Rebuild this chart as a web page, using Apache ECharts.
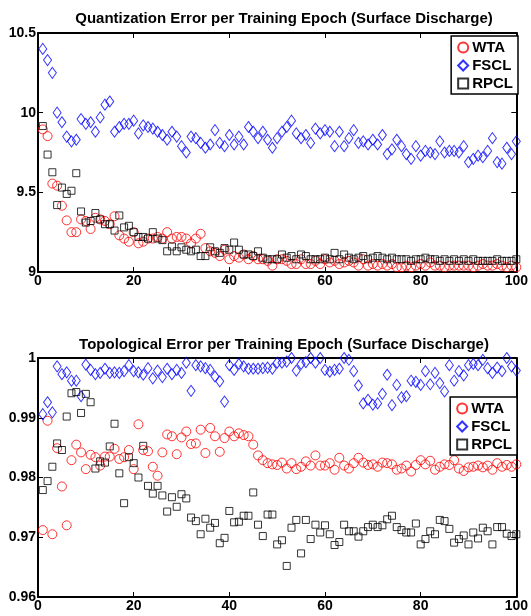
<!DOCTYPE html>
<html><head><meta charset="utf-8">
<script src="https://cdn.jsdelivr.net/npm/echarts@6/dist/echarts.min.js"></script>
<style>html,body{margin:0;padding:0;background:#fff}#c{width:531px;height:616px}</style>
</head><body><div id="c"></div>
<script>
const qeTitle = 'Quantization Error per Training Epoch (Surface Discharge)';
const teTitle = 'Topological Error per Training Epoch (Surface Discharge)';
const seriesNames = ['WTA', 'FSCL', 'RPCL'];
const xTicks = [0, 20, 40, 60, 80, 100];
const qeTicks = [9, 9.5, 10, 10.5];
const teTicks = [0.96, 0.97, 0.98, 0.99, 1];

const qeWTA = [9.895,9.853,9.555,9.542,9.416,9.324,9.25,9.25,9.33,9.32,9.27,9.34,9.33,9.32,9.30,9.35,9.23,9.21,9.19,9.25,9.18,9.19,9.21,9.21,9.22,9.21,9.25,9.21,9.22,9.22,9.21,9.18,9.21,9.24,
9.15,9.13,9.12,9.10,9.14,9.08,9.10,9.09,9.11,9.08,9.10,9.08,9.08,9.07,9.04,9.08,9.08,9.07,9.05,9.05,9.08,9.05,9.05,9.07,9.05,9.08,9.06,9.07,9.05,9.06,9.07,9.06,9.04,9.08,
9.04,9.05,9.04,9.05,9.04,9.05,9.03,9.03,9.04,9.03,9.04,9.05,9.04,9.06,9.04,9.04,9.03,9.04,9.04,9.04,9.04,9.04,9.03,9.04,9.05,9.04,9.04,9.05,9.04,9.03,9.04,9.03];
const qeFSCL = [10.40,10.33,10.25,10.00,9.94,9.85,9.82,9.83,9.96,9.93,9.94,9.88,9.97,10.05,10.07,9.88,9.91,9.93,9.93,9.95,9.87,9.92,9.91,9.90,9.88,9.86,9.83,9.88,9.85,9.79,9.75,9.85,9.84,9.81,
9.78,9.80,9.89,9.81,9.79,9.86,9.80,9.85,9.80,9.91,9.88,9.84,9.88,9.83,9.78,9.84,9.88,9.91,9.95,9.87,9.84,9.86,9.81,9.90,9.87,9.89,9.88,9.79,9.88,9.79,9.84,9.89,
9.81,9.82,9.80,9.83,9.80,9.86,9.74,9.77,9.83,9.79,9.74,9.71,9.79,9.73,9.76,9.75,9.74,9.82,9.75,9.76,9.76,9.75,9.79,9.69,9.71,9.73,9.72,9.76,9.84,9.69,9.68,9.78,9.74,9.82];
const qeRPCL = [9.916,9.737,9.626,9.42,9.53,9.49,9.51,9.62,9.38,9.31,9.32,9.37,9.33,9.30,9.30,9.26,9.355,9.28,9.29,9.25,9.22,9.22,9.21,9.25,9.21,9.20,9.13,9.16,9.13,9.155,9.14,9.13,9.14,9.10,
9.10,9.155,9.13,9.12,9.15,9.14,9.185,9.14,9.11,9.11,9.10,9.13,9.09,9.08,9.08,9.08,9.11,9.09,9.10,9.08,9.11,9.10,9.08,9.08,9.08,9.09,9.08,9.12,9.08,9.11,9.09,9.08,
9.09,9.10,9.08,9.09,9.10,9.09,9.08,9.09,9.08,9.08,9.08,9.07,9.08,9.08,9.09,9.08,9.08,9.07,9.08,9.07,9.08,9.07,9.08,9.07,9.08,9.07,9.07,9.07,9.07,9.08,9.07,9.07,9.07,9.08];

const teWTA = [0.9712,0.9895,0.9705,0.9849,0.9785,0.9720,0.9829,0.9855,0.9842,0.9814,0.9838,0.9834,0.9820,0.9835,0.9835,0.9848,0.9831,0.9834,0.9846,0.9814,0.9889,0.9846,0.9844,0.9818,0.9803,0.9842,0.9872,0.9869,0.9839,0.9867,0.9877,0.9856,0.9857,0.9880,
0.9841,0.9883,0.9869,0.9843,0.9866,0.9877,0.9869,0.9874,0.9871,0.9869,0.9855,0.9837,0.9829,0.9824,0.9822,0.9821,0.9825,0.9815,0.9824,0.9814,0.9818,0.9827,0.9820,0.9837,0.9820,0.9820,0.9824,0.9813,0.9833,0.9820,0.9815,0.9824,0.9833,
0.9825,0.9821,0.9822,0.9818,0.9825,0.9824,0.9822,0.9813,0.9815,0.9820,0.9810,0.9821,0.9829,0.9822,0.9828,0.9813,0.9818,0.9822,0.9821,0.9829,0.9815,0.9811,0.9817,0.9818,0.9820,0.9817,0.9820,0.9813,0.9824,0.9818,0.9821,0.9818,0.9822];
const teFSCL = [0.9906,0.9926,0.9909,0.9986,0.9973,0.9976,0.9962,0.9962,0.9936,0.9989,0.9980,0.9973,0.9975,0.9982,0.9975,0.9976,0.9975,0.9978,0.9988,0.9978,0.9976,0.9972,0.9983,0.9966,0.9979,0.9968,0.9982,0.9973,0.9980,0.9975,0.9992,0.9945,0.9988,0.9986,
0.9983,0.9980,0.9969,0.9961,0.9927,0.9988,0.9980,0.9990,0.9986,0.9982,0.9982,0.9982,0.9983,0.9984,0.9982,0.9992,0.9992,0.9994,1.0,0.9979,0.9990,0.9993,1.0,0.9992,1.0,0.9980,0.9977,0.9980,0.9982,1.0,0.9997,0.9978,0.9954,
0.9924,0.9930,0.9922,0.9924,0.9940,0.9972,0.9921,0.9955,0.9934,0.9936,0.9962,0.9960,0.9955,0.9978,0.9956,0.9975,0.9958,0.9944,0.9988,0.9962,0.9978,0.9971,0.9988,0.9990,0.9988,0.9997,0.9983,0.9975,0.9984,0.9978,1.0,0.9986,0.9979];
const teRPCL = [0.9779,0.9794,0.9818,0.9857,0.9846,0.9902,0.9941,0.9943,0.9908,0.9940,0.9926,0.9815,0.9827,0.9825,0.9852,0.9890,0.9807,0.9757,0.9834,0.9824,0.9800,0.9853,0.9786,0.9773,0.9786,0.9770,0.9743,0.9767,0.9751,0.9772,0.9765,0.9733,0.9727,0.9705,
0.9731,0.9716,0.9724,0.9690,0.9699,0.9744,0.9725,0.9726,0.9736,0.9736,0.9775,0.9721,0.9702,0.9738,0.9738,0.9688,0.9695,0.9652,0.9716,0.9729,0.9673,0.9729,0.9697,0.9721,0.9708,0.9720,0.9705,0.9687,0.9692,0.9721,0.9710,0.9710,0.9701,
0.9710,0.9717,0.9721,0.9717,0.9720,0.9730,0.9736,0.9717,0.9712,0.9708,0.9708,0.9723,0.9688,0.9697,0.9710,0.9705,0.9729,0.9727,0.9714,0.9691,0.9697,0.9703,0.9688,0.9708,0.9698,0.9716,0.9710,0.9688,0.9717,0.9717,0.9706,0.9702,0.9705];

const FONT = "'Liberation Sans', Arial, sans-serif";
const styles = {
  WTA:  {symbol: 'circle',  size: 9,       color: '#ff0000'},
  FSCL: {symbol: 'diamond', size: [8, 11], color: '#0000ff'},
  RPCL: {symbol: 'rect',    size: 7,       color: '#000000'}
};
function pts(arr) { return arr.map((v, i) => [i + 1, v]); }
function mkSeries(name, arr, gi) {
  const s = styles[name];
  return {
    name: name, type: 'scatter', xAxisIndex: gi * 2, yAxisIndex: gi * 2,
    data: pts(arr), symbol: s.symbol, symbolSize: s.size,
    itemStyle: {color: 'rgba(255,255,255,0)', borderColor: s.color, borderWidth: 1},
    emphasis: {disabled: true}, animation: false
  };
}
const grids = [
  {left: 38, top: 33, width: 480, height: 239},
  {left: 38, top: 358, width: 480, height: 239}
];
const xAxes = [], yAxes = [];
const yRanges = [{min: qeTicks[0], max: qeTicks[qeTicks.length - 1], interval: 0.5},
                 {min: teTicks[0], max: teTicks[teTicks.length - 1], interval: 0.01}];
for (let g = 0; g < 2; g++) {
  const lineS = {show: true, onZero: false, lineStyle: {color: '#000', width: 2}};
  const tick = {inside: true, length: 5, lineStyle: {color: '#000', width: 1}};
  const lab = {color: '#000', fontWeight: 'bold', fontSize: 14, fontFamily: FONT, margin: 2};
  xAxes.push({type: 'value', gridIndex: g, position: 'bottom', min: xTicks[0], max: xTicks[xTicks.length - 1], interval: 20,
    axisLine: lineS, axisTick: tick, axisLabel: lab, splitLine: {show: false}});
  xAxes.push({type: 'value', gridIndex: g, position: 'top', min: xTicks[0], max: xTicks[xTicks.length - 1], interval: 20,
    axisLine: lineS, axisTick: tick, axisLabel: {show: false}, splitLine: {show: false}});
  yAxes.push({type: 'value', gridIndex: g, position: 'left', min: yRanges[g].min, max: yRanges[g].max, interval: yRanges[g].interval,
    axisLine: lineS, axisTick: tick, axisLabel: lab, splitLine: {show: false}});
  yAxes.push({type: 'value', gridIndex: g, position: 'right', min: yRanges[g].min, max: yRanges[g].max, interval: yRanges[g].interval,
    axisLine: lineS, axisTick: tick, axisLabel: {show: false}, splitLine: {show: false}});
}
const legendCommon = {
  orient: 'vertical', backgroundColor: '#fff', borderColor: '#000', borderWidth: 1.5, borderRadius: 0,
  padding: [4, 5, 3, 6], itemGap: 3, itemWidth: 10, itemHeight: 10,
  textStyle: {color: '#000', fontWeight: 'bold', fontSize: 15, fontFamily: FONT, padding: [0, 0, 0, -1]},
  selectedMode: false, data: seriesNames.map(n => ({name: n}))
};
const titleText = {color: '#000', fontWeight: 'bold', fontSize: 15, fontFamily: FONT};
const option = {
  backgroundColor: '#fff',
  animation: false,
  title: [
    {text: qeTitle, left: 279, top: 6, textAlign: 'center', textStyle: titleText},
    {text: teTitle, left: 279, top: 332, textAlign: 'center', textStyle: titleText}
  ],
  grid: grids,
  xAxis: xAxes,
  yAxis: yAxes,
  legend: [
    Object.assign({}, legendCommon, {right: 13, top: 36}),
    Object.assign({}, legendCommon, {right: 14, top: 397})
  ],
  series: [
    mkSeries('WTA', qeWTA, 0), mkSeries('FSCL', qeFSCL, 0), mkSeries('RPCL', qeRPCL, 0),
    mkSeries('WTA', teWTA, 1), mkSeries('FSCL', teFSCL, 1), mkSeries('RPCL', teRPCL, 1)
  ]
};
const chart = echarts.init(document.getElementById('c'), null, {renderer: 'canvas'});
chart.setOption(option);
</script></body></html>
